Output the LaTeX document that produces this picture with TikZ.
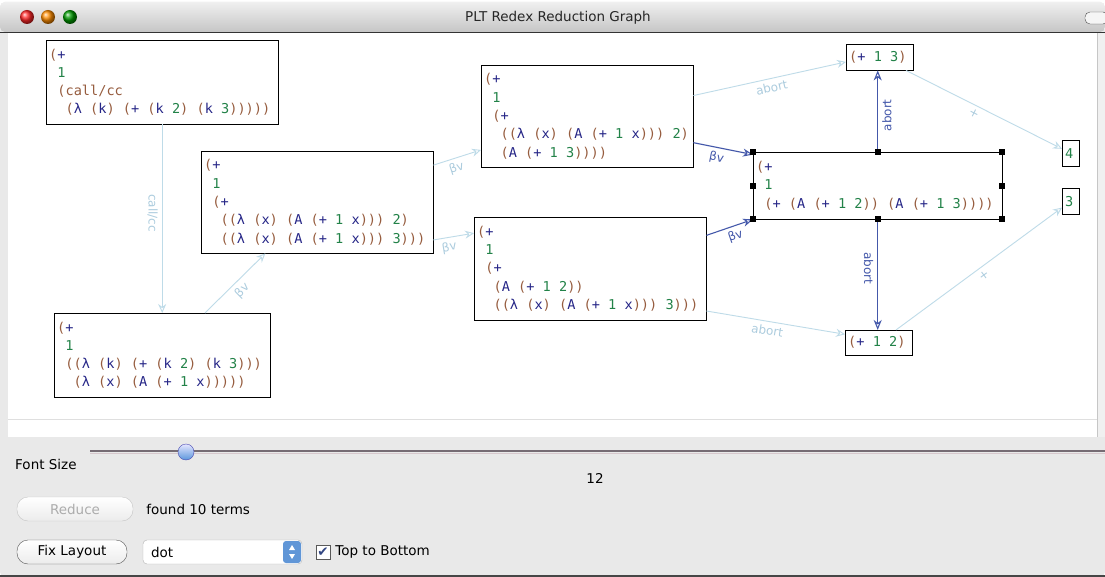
\documentclass[tikz,border=0pt]{standalone}
\usepackage{fontspec}
\usepackage{xcolor}
\usetikzlibrary{arrows.meta, positioning}

\newfontfamily\rxmono{DejaVu Sans Mono}
\newfontfamily\uisans{DejaVu Sans}
\newcommand\rxfont{\rxmono\fontsize{13.6}{18.3}\selectfont}
\newcommand\uifont{\uisans\fontsize{13.5}{16}\selectfont}
\newcommand\titlefont{\uisans\fontsize{13.5}{16}\selectfont}
\newcommand\lblfont{\uisans\fontsize{12}{14}\selectfont}

\definecolor{rxparen}{RGB}{150,92,62}
\definecolor{rxid}{RGB}{38,38,135}
\definecolor{rxnum}{RGB}{34,130,72}
\definecolor{edgelight}{RGB}{190,219,232}
\definecolor{edgelabel}{RGB}{172,204,222}
\definecolor{edgedark}{RGB}{68,88,170}
\definecolor{panelgray}{RGB}{233,233,233}
\definecolor{stepblue}{RGB}{96,150,215}
\definecolor{checkblue}{RGB}{50,70,130}

% one line of a term: parens brown, numbers green, the rest blue
\ExplSyntaxOn
\dim_new:N \l_rx_cw_dim
\NewDocumentCommand \rx { O{0} m }
  {
    \mbox
      {
        \settowidth \l_rx_cw_dim { x }
        \hspace*{ #1 \l_rx_cw_dim }
        \str_map_inline:nn {#2}
          {
            \str_if_eq:nnTF {##1} {~}
              { \hspace*{ \l_rx_cw_dim } }
              {
                \str_if_in:nnTF { () } {##1}
                  { \textcolor{rxparen}{##1} }
                  {
                    \str_if_in:nnTF { 0123456789 } {##1}
                      { \textcolor{rxnum}{##1} }
                      { \textcolor{rxid}{##1} }
                  }
              }
          }
      }
  }
\ExplSyntaxOff

\begin{document}
\begin{tikzpicture}[
    x=1pt, y=-1pt,
    term/.style={draw, fill=white, anchor=north west, align=left, inner xsep=3pt, inner ysep=0pt, font=\rxfont},
    light/.style={draw=edgelight, line width=0.9pt, -{Stealth[open, length=9pt, width=8pt, inset=3pt]}},
    dark/.style={draw=edgedark, line width=1.1pt, -{Stealth[open, length=10pt, width=8pt, inset=3pt]}},
    lbl/.style={sloped, allow upside down, below, inner sep=4pt, font=\lblfont},
    lightlbl/.style={lbl, text=edgelabel},
    darklbl/.style={lbl, text=edgedark},
    btn/.style={draw=gray!70!black, rounded corners=11pt, top color=white, bottom color=gray!15, minimum height=24pt, font=\uifont},
    ui/.style={font=\uifont, inner sep=2pt}
]
    \useasboundingbox (0,0) rectangle (1105,577);

    % window frame
    \fill[white] (0,0) rectangle (1105,577);
    \fill[panelgray, rounded corners=5pt] (0,2) rectangle (1105,577);
    \shade[top color=gray!12, bottom color=gray!45, rounded corners=5pt] (0,2) rectangle (1105,32);
    \draw[gray!40!black] (0,32) -- (1105,32);
    \shade[ball color=red!85!white] (27,17) circle (7pt);
    \shade[ball color=orange!90!yellow] (48,17) circle (7pt);
    \shade[ball color=green!60!black] (70,17) circle (7pt);
    \draw[gray!60!black, fill=gray!8, rounded corners=5pt] (1085,12) rectangle (1108,24);
    \node[font=\titlefont, text=black!85] (title) at (558,18) {PLT Redex Reduction Graph};

    % canvas
    \fill[white] (8,33) rectangle (1097,437);
    \draw[gray!25] (8,419) -- (1097,419);
    \fill[gray!12] (1097,33) rectangle (1105,437);
    \draw[gray!45] (1097,33) -- (1097,437);

    % terms
    \node[term, text width=226pt, minimum height=84pt] (t1) at (46,40)
        {\rx{(+}\\ \rx[1]{1}\\ \rx[1]{(}{\color{rxparen}call/cc}\\ \rx[2]{(λ (k) (+ (k 2) (k 3)))))}};
    \node[term, text width=210pt, minimum height=84pt] (t2) at (54,313)
        {\rx{(+}\\ \rx[1]{1}\\ \rx[1]{((λ (k) (+ (k 2) (k 3)))}\\ \rx[2]{(λ (x) (A (+ 1 x)))))}};
    \node[term, text width=226pt, minimum height=102pt] (t3) at (201,151)
        {\rx{(+}\\ \rx[1]{1}\\ \rx[1]{(+}\\ \rx[2]{((λ (x) (A (+ 1 x))) 2)}\\ \rx[2]{((λ (x) (A (+ 1 x))) 3)))}};
    \node[term, text width=206pt, minimum height=102pt] (t4) at (481,65)
        {\rx{(+}\\ \rx[1]{1}\\ \rx[1]{(+}\\ \rx[2]{((λ (x) (A (+ 1 x))) 2)}\\ \rx[2]{(A (+ 1 3))))}};
    \node[term, text width=226pt, minimum height=103pt] (t5) at (474,217)
        {\rx{(+}\\ \rx[1]{1}\\ \rx[1]{(+}\\ \rx[2]{(A (+ 1 2))}\\ \rx[2]{((λ (x) (A (+ 1 x))) 3)))}};
    \node[term, text width=243pt, minimum height=67pt] (t6) at (753,152)
        {\rx{(+}\\ \rx[1]{1}\\ \rx[1]{(+ (A (+ 1 2)) (A (+ 1 3))))}};
    \node[term, text width=61pt, minimum height=26pt] (t7) at (846,44) {\rx{(+ 1 3)}};
    \node[term, text width=61pt, minimum height=25pt] (t8) at (845,330) {\rx{(+ 1 2)}};
    \node[term, text width=11pt, minimum height=26pt] (t9) at (1062,140) {\rx{4}};
    \node[term, text width=11pt, minimum height=26pt] (t10) at (1062,188) {\rx{3}};

    % reductions
    \draw[light] (t1) -- node[lightlbl, pos=0.47] {call/cc} (t2);
    \draw[light] (t2) -- node[lightlbl] {βv} (t3);
    \draw[light] (t3) -- node[lightlbl, pos=0.42] {βv} (t4);
    \draw[light] (t3.-18) -- node[lightlbl, pos=0.35] {βv} (t5.163);
    \draw[dark] (t4.-14) -- node[darklbl, pos=0.42] {βv} (t6.166);
    \draw[dark] (t5.16) -- node[darklbl, pos=0.55] {βv} (t6.south west);
    \draw[light] (t4.11) -- node[lightlbl] {abort} (t7.188);
    \draw[light] (t5.-20) -- node[lightlbl, pos=0.45] {abort} (t8.166);
    \draw[dark] (t6.north) -- node[darklbl, pos=0.45] {abort} (t6.north |- t7.south);
    \draw[dark] (t6.south) -- node[darklbl, pos=0.44] {abort} (t6.south |- t8.north);
    \draw[light] (t7) -- node[lightlbl, pos=0.46] {+} (t9);
    \draw[light] (t8) -- node[lightlbl] {+} (t10);

    % selection handles
    \foreach \a in {north west, north, north east, west, east, south west, south, south east}
        \fill (t6.\a) +(-3,-3) rectangle +(3,3);

    % controls
    \draw[line width=1.6pt, color={rgb,255:red,118;green,108;blue,116}] (90,451) -- (1105,451);
    \draw[line width=1pt, color={rgb,255:red,215;green,200;blue,205}] (90,453.5) -- (1105,453.5);
    \shade[top color=blue!10!white, bottom color={rgb,255:red,90;green,150;blue,220}] (186,452) circle (8pt);
    \draw[blue!40!gray] (186,452) circle (8pt);
    \node[ui, anchor=west] (fontsize) at (13,464) {Font Size};
    \node[ui] (sizeval) at (595,478) {12};

    \node[btn, draw=gray!45, text=gray!65, minimum width=116pt] (reduce) at (75,509) {Reduce};
    \node[ui, right=11pt of reduce] (found) {found 10 terms};

    \node[btn, minimum width=110pt] (fix) at (72,552) {Fix Layout};
    \node[draw=gray!60, fill=white, rounded corners=4pt, text width=143pt, align=left, inner xsep=8pt,
          minimum height=24pt, font=\uifont] (algo) at (222.5,552) {dot};
    \node[fill=stepblue, rounded corners=3pt, minimum width=18pt, minimum height=22pt, anchor=east] (spin)
        at ([xshift=-1pt]algo.east) {};
    \fill[white] ([shift={(-3,-2)}]spin.center) -- ++(6,0) -- ++(-3,-5) -- cycle;
    \fill[white] ([shift={(-3,2)}]spin.center) -- ++(6,0) -- ++(-3,5) -- cycle;
    \node[draw=gray!70!black, fill=white, minimum size=14pt, inner sep=0pt, font=\uifont, text=checkblue]
        (topbtm) at (323,552) {✔};
    \node[ui, right=3pt of topbtm] (toplbl) {Top to Bottom};

    \draw[gray!55!black, line width=2pt] (0,576) -- (1105,576);
\end{tikzpicture}
\end{document}
